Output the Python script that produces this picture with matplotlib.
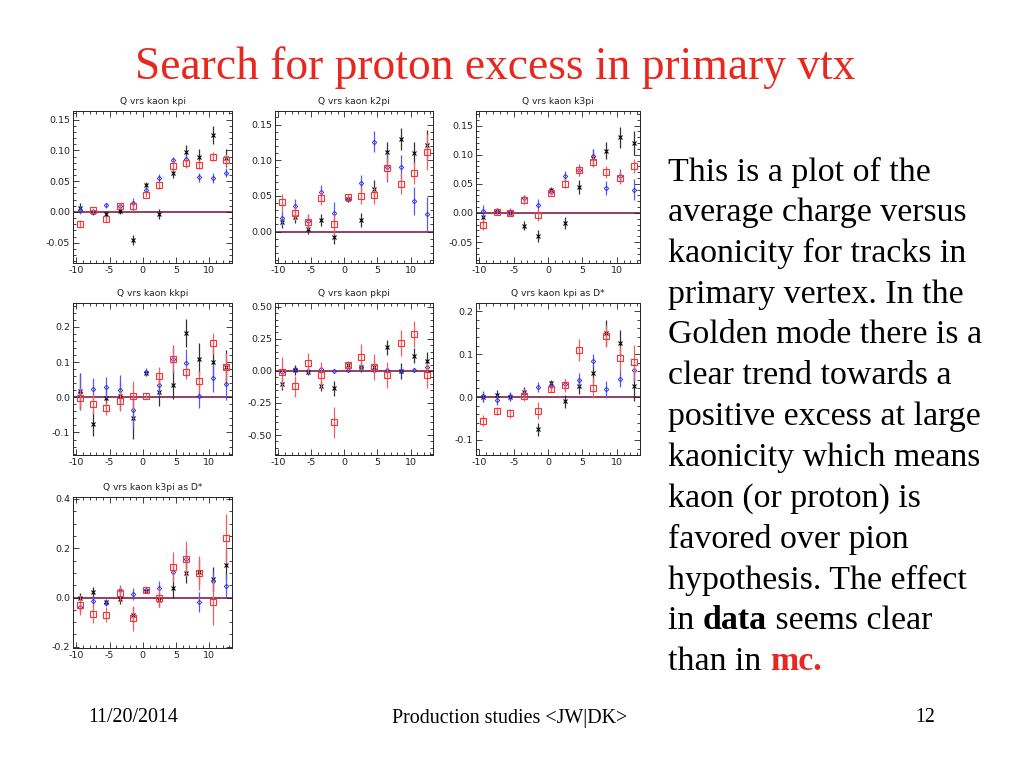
import matplotlib
matplotlib.use("Agg")
import matplotlib.pyplot as plt
from matplotlib.ticker import MultipleLocator, FormatStrFormatter

plt.rcParams["axes.unicode_minus"] = False

# ---------------- data ----------------
kaonicity = [-9.5, -7.5, -5.5, -3.5, -1.5, 0.5, 2.5, 4.5, 6.5, 8.5, 10.5, 12.5]

titles = ["Q vrs kaon kpi", "Q vrs kaon k2pi", "Q vrs kaon k3pi",
          "Q vrs kaon kkpi", "Q vrs kaon pkpi", "Q vrs kaon kpi as D*",
          "Q vrs kaon k3pi as D*"]

# panel 1: kpi
p1_black = [0.007, 0.0, -0.003, 0.002, -0.045, 0.044, -0.003, 0.063, 0.097, 0.090, 0.125, 0.088]
p1_blue = [0.003, 0.0, 0.011, 0.010, 0.015, 0.036, 0.055, 0.084, 0.086, 0.056, 0.055, 0.064]
p1_red = [-0.019, 0.003, -0.012, 0.010, 0.009, 0.028, 0.043, 0.074, 0.080, 0.077, 0.090, 0.084]
p1_black_err = [0.008, 0.005, 0.005, 0.006, 0.008, 0.004, 0.008, 0.008, 0.012, 0.012, 0.015, 0.015]
p1_blue_err = [0.006, 0.004, 0.004, 0.005, 0.007, 0.004, 0.006, 0.006, 0.008, 0.008, 0.008, 0.008]
p1_red_err = [0.006, 0.004, 0.004, 0.005, 0.007, 0.004, 0.006, 0.008, 0.008, 0.008, 0.008, 0.010]

# panel 2: k2pi
p2_black = [0.013, 0.020, 0.003, 0.016, -0.008, 0.045, 0.016, 0.060, 0.111, 0.130, 0.110, 0.122]
p2_blue = [0.019, 0.036, 0.015, 0.056, 0.026, 0.046, 0.068, 0.126, 0.090, 0.090, 0.043, 0.024]
p2_red = [0.041, 0.026, 0.014, 0.047, 0.010, 0.048, 0.050, 0.051, 0.089, 0.067, 0.082, 0.112]
p2_black_err = [0.008, 0.008, 0.006, 0.008, 0.010, 0.004, 0.010, 0.012, 0.014, 0.015, 0.016, 0.020]
p2_blue_err = [0.010, 0.010, 0.010, 0.010, 0.015, 0.004, 0.012, 0.015, 0.020, 0.018, 0.020, 0.025]
p2_red_err = [0.012, 0.010, 0.010, 0.010, 0.015, 0.004, 0.012, 0.012, 0.015, 0.015, 0.015, 0.025]

# panel 3: k3pi
p3_black = [-0.007, 0.003, 0.0, -0.022, -0.040, 0.040, -0.017, 0.045, 0.095, 0.107, 0.130, 0.120]
p3_blue = [0.003, 0.003, 0.002, 0.025, 0.014, 0.036, 0.064, 0.074, 0.097, 0.043, 0.063, 0.040]
p3_red = [-0.020, 0.002, 0.0, 0.023, -0.004, 0.035, 0.050, 0.073, 0.088, 0.070, 0.060, 0.080]
p3_black_err = [0.010, 0.006, 0.006, 0.008, 0.010, 0.004, 0.010, 0.012, 0.015, 0.015, 0.018, 0.020]
p3_blue_err = [0.010, 0.006, 0.006, 0.006, 0.010, 0.004, 0.008, 0.010, 0.012, 0.012, 0.012, 0.018]
p3_red_err = [0.010, 0.006, 0.006, 0.008, 0.010, 0.004, 0.008, 0.010, 0.010, 0.010, 0.010, 0.012]

# panel 4: kkpi
p4_black = [0.018, -0.075, -0.002, 0.003, -0.058, 0.070, 0.015, 0.035, 0.182, 0.108, 0.100, 0.085]
p4_blue = [0.015, 0.025, 0.028, 0.022, -0.037, 0.072, 0.035, 0.108, 0.097, 0.004, 0.055, 0.037]
p4_red = [-0.003, -0.018, -0.030, -0.010, 0.005, 0.005, 0.060, 0.110, 0.072, 0.045, 0.153, 0.085]
p4_black_err = [0.050, 0.035, 0.030, 0.040, 0.060, 0.010, 0.040, 0.040, 0.040, 0.045, 0.040, 0.050]
p4_blue_err = [0.050, 0.030, 0.030, 0.040, 0.050, 0.010, 0.030, 0.040, 0.040, 0.035, 0.040, 0.045]
p4_red_err = [0.030, 0.030, 0.020, 0.030, 0.040, 0.008, 0.025, 0.035, 0.020, 0.030, 0.030, 0.040]

# panel 5: pkpi
p5_black = [-0.100, 0.010, -0.005, -0.115, -0.135, 0.050, 0.030, 0.030, 0.185, 0.0, 0.120, 0.080]
p5_blue = [-0.005, 0.015, 0.0, 0.015, 0.0, 0.005, 0.030, 0.010, 0.010, 0.0, 0.010, 0.030]
p5_red = [-0.010, -0.120, 0.060, -0.030, -0.400, 0.050, 0.110, 0.030, -0.030, 0.220, 0.290, -0.035]
p5_black_err = [0.050, 0.040, 0.030, 0.040, 0.060, 0.020, 0.040, 0.050, 0.060, 0.060, 0.060, 0.070]
p5_blue_err = [0.010, 0.010, 0.010, 0.010, 0.010, 0.010, 0.010, 0.010, 0.010, 0.010, 0.010, 0.010]
p5_red_err = [0.120, 0.080, 0.080, 0.100, 0.120, 0.030, 0.100, 0.100, 0.100, 0.100, 0.100, 0.100]

# panel 6: kpi as D*
p6_black = [0.0, 0.005, 0.0, 0.012, -0.075, 0.033, -0.010, 0.025, 0.055, 0.150, 0.125, 0.025]
p6_blue = [0.003, -0.007, 0.002, 0.010, 0.023, 0.025, 0.030, 0.040, 0.085, 0.018, 0.043, 0.063]
p6_red = [-0.055, -0.033, -0.038, 0.002, -0.032, 0.018, 0.027, 0.110, 0.022, 0.142, 0.090, 0.082]
p6_black_err = [0.012, 0.012, 0.010, 0.012, 0.015, 0.006, 0.015, 0.018, 0.020, 0.030, 0.030, 0.035]
p6_blue_err = [0.012, 0.012, 0.010, 0.012, 0.012, 0.010, 0.012, 0.015, 0.015, 0.020, 0.020, 0.025]
p6_red_err = [0.012, 0.010, 0.010, 0.012, 0.020, 0.006, 0.015, 0.025, 0.025, 0.025, 0.030, 0.040]

# panel 7: k3pi as D*
p7_black = [0.0, 0.022, -0.020, -0.005, -0.070, 0.027, -0.010, 0.040, 0.100, 0.105, 0.075, 0.133]
p7_blue = [-0.040, -0.015, -0.023, 0.032, 0.015, 0.030, 0.040, 0.105, 0.158, -0.017, 0.065, 0.046]
p7_red = [-0.030, -0.065, -0.070, 0.017, -0.085, 0.030, 0.0, 0.123, 0.158, 0.100, -0.020, 0.240]
p7_black_err = [0.020, 0.020, 0.012, 0.020, 0.030, 0.008, 0.030, 0.040, 0.040, 0.050, 0.050, 0.060]
p7_blue_err = [0.020, 0.020, 0.012, 0.020, 0.025, 0.010, 0.025, 0.030, 0.040, 0.040, 0.040, 0.050]
p7_red_err = [0.040, 0.040, 0.030, 0.030, 0.050, 0.010, 0.040, 0.060, 0.070, 0.070, 0.090, 0.100]

text_lines = ["This is a plot of the", "average charge versus", "kaonicity for tracks in",
              "primary vertex. In the", "Golden mode there is a", "clear trend towards a",
              "positive excess at large", "kaonicity which means", "kaon (or proton) is",
              "favored over pion", "hypothesis. The effect"]

# ---------------- layout ----------------
W, H = 1024, 768
fig = plt.figure(figsize=(W / 100, H / 100), dpi=100)
fig.patch.set_facecolor("white")

# pixel boxes (left, top, right, bottom)
boxes = [(73, 111, 232, 263), (275, 111, 433, 263), (476, 111, 640, 263),
         (73, 303, 232, 455), (275, 303, 433, 455), (476, 303, 640, 455),
         (73, 497, 232, 648)]
ylims = [(-0.083, 0.164), (-0.044, 0.169), (-0.086, 0.175), (-0.164, 0.268),
         (-0.656, 0.53), (-0.135, 0.219), (-0.205, 0.408)]
ymaj = [0.05, 0.05, 0.05, 0.1, 0.25, 0.1, 0.2]
ymin = [0.01, 0.01, 0.01, 0.02, 0.05, 0.02, 0.05]
yfmt = ["%.2f", "%.2f", "%.2f", "%.1f", "%.2f", "%.1f", "%.1f"]

panels = [
    (p1_black, p1_black_err, p1_blue, p1_blue_err, p1_red, p1_red_err),
    (p2_black, p2_black_err, p2_blue, p2_blue_err, p2_red, p2_red_err),
    (p3_black, p3_black_err, p3_blue, p3_blue_err, p3_red, p3_red_err),
    (p4_black, p4_black_err, p4_blue, p4_blue_err, p4_red, p4_red_err),
    (p5_black, p5_black_err, p5_blue, p5_blue_err, p5_red, p5_red_err),
    (p6_black, p6_black_err, p6_blue, p6_blue_err, p6_red, p6_red_err),
    (p7_black, p7_black_err, p7_blue, p7_blue_err, p7_red, p7_red_err),
]

for i, (box, title) in enumerate(zip(boxes, titles)):
    l, t, r, b = box
    ax = fig.add_axes([l / W, 1 - b / H, (r - l) / W, (b - t) / H])
    bk, bke, bl, ble, rd, rde = panels[i]
    ax.axhline(0, color="#7a0a3c", lw=1.1, zorder=1)
    ax.errorbar(kaonicity, bk, yerr=bke, fmt="x", color="black", ms=3.2, mew=0.8,
                elinewidth=0.9, ecolor="#333333", capsize=0, zorder=3)
    ax.errorbar(kaonicity, bl, yerr=ble, fmt="D", color="#2a2ae0", ms=2.3, mew=0.6,
                mfc="none", elinewidth=0.9, ecolor="#5a5af0", capsize=0, zorder=4)
    ax.errorbar(kaonicity, rd, yerr=rde, fmt="s", color="#ff3030", ms=3.8, mew=0.8,
                mfc="none", elinewidth=0.9, ecolor="#f06060", capsize=0, zorder=5)
    ax.set_xlim(-10.5, 13.4)
    ax.set_ylim(*ylims[i])
    ax.xaxis.set_major_locator(MultipleLocator(5))
    ax.xaxis.set_minor_locator(MultipleLocator(1))
    ax.yaxis.set_major_locator(MultipleLocator(ymaj[i]))
    ax.yaxis.set_minor_locator(MultipleLocator(ymin[i]))
    ax.yaxis.set_major_formatter(FormatStrFormatter(yfmt[i]))
    ax.tick_params(which="both", direction="in", top=True, right=True,
                   labelsize=6.8, colors="#222222", width=0.6)
    ax.tick_params(which="major", length=4, pad=2)
    ax.tick_params(which="minor", length=2)
    for s in ax.spines.values():
        s.set_linewidth(0.7)
        s.set_color("#222222")
    ax.set_title(title, fontsize=6.6, color="#222222", pad=5, family="DejaVu Sans")

# ---------------- slide text ----------------
fig.text(495 / W, 1 - 68 / H, "Search for proton excess in primary vtx",
         color="#e8281e", fontsize=32.8, family="Liberation Serif", ha="center", va="center")

FS = 24.4
y0 = 172
dy = 40.8
for k, line in enumerate(text_lines):
    fig.text(668 / W, 1 - (y0 + k * dy) / H, line, fontsize=FS,
             family="Liberation Serif", ha="left", va="center", color="black")

fig.canvas.draw()
rend = fig.canvas.get_renderer()

# line with bold "data"
yk = y0 + 11 * dy
t1 = fig.text(668 / W, 1 - yk / H, "in ", fontsize=FS, family="Liberation Serif",
              ha="left", va="center")
bb = t1.get_window_extent(rend)
t2 = fig.text(bb.x1 / W, 1 - yk / H, "data", fontsize=FS, family="Liberation Serif",
              weight="bold", ha="left", va="center")
bb2 = t2.get_window_extent(rend)
fig.text(bb2.x1 / W, 1 - yk / H, " seems clear", fontsize=FS, family="Liberation Serif",
         ha="left", va="center")

yk = y0 + 12 * dy
t3 = fig.text(668 / W, 1 - yk / H, "than in ", fontsize=FS, family="Liberation Serif",
              ha="left", va="center")
bb3 = t3.get_window_extent(rend)
fig.text(bb3.x1 / W, 1 - yk / H, "mc.", fontsize=FS, family="Liberation Serif",
         weight="bold", color="#e8281e", ha="left", va="center")

# footer
fig.text(88 / W, 1 - 718 / H, "11/20/2014", fontsize=14.4, family="Liberation Serif",
         ha="left", va="center")
fig.text(510 / W, 1 - 718 / H, "Production studies <JW|DK>", fontsize=14.4,
         family="Liberation Serif", ha="center", va="center")
fig.text(935 / W, 1 - 718 / H, "12", fontsize=14.4, family="Liberation Serif",
         ha="right", va="center")

fig.savefig("out.png", dpi=100)
